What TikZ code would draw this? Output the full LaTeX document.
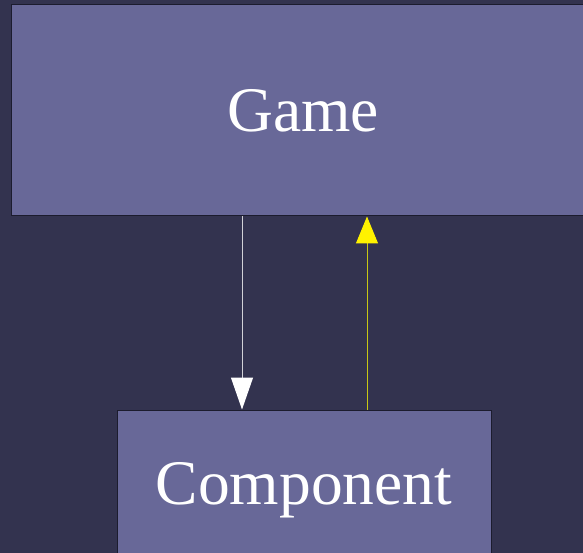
\documentclass[tikz,border=0pt]{standalone}
\usepackage{fontspec}
\setmainfont{Liberation Serif}
\usetikzlibrary{arrows.meta, positioning}

\definecolor{bgnavy}{RGB}{51,51,79}
\definecolor{boxfill}{RGB}{104,104,152}
\definecolor{boxline}{RGB}{28,28,46}
\definecolor{uselink}{RGB}{210,210,215}
\definecolor{backlink}{RGB}{200,200,20}

\begin{document}
\begin{tikzpicture}[
    x=1pt, y=-1pt,
    every node/.style={font=\fontsize{63.5}{70}\selectfont, text=white},
    classbox/.style={rectangle, draw=boxline, fill=boxfill, line width=1pt,
      inner sep=0pt, text depth=0pt},
    down/.style={draw=uselink, line width=1pt,
      -{Triangle[length=32pt, width=22pt, color=white]}},
    up/.style={draw=backlink, line width=1pt,
      -{Triangle[length=27pt, width=22pt, color=yellow]}},
  ]
  \useasboundingbox (0,0) rectangle (583,553);
  \clip (0,0) rectangle (583,553);
  \fill[bgnavy] (0,0) rectangle (583,553);

  \node[classbox, minimum width=584pt, minimum height=211pt] (game)
    at (303,110.5) {Game};
  \node[classbox, minimum width=374pt, minimum height=146pt] (comp)
    at (304,483) {Component};

  \draw[down] ([xshift=-61pt]game.south) -- ([xshift=-62pt]comp.north);
  \draw[up] ([xshift=63pt]comp.north) -- ([xshift=64pt]game.south);
\end{tikzpicture}
\end{document}
